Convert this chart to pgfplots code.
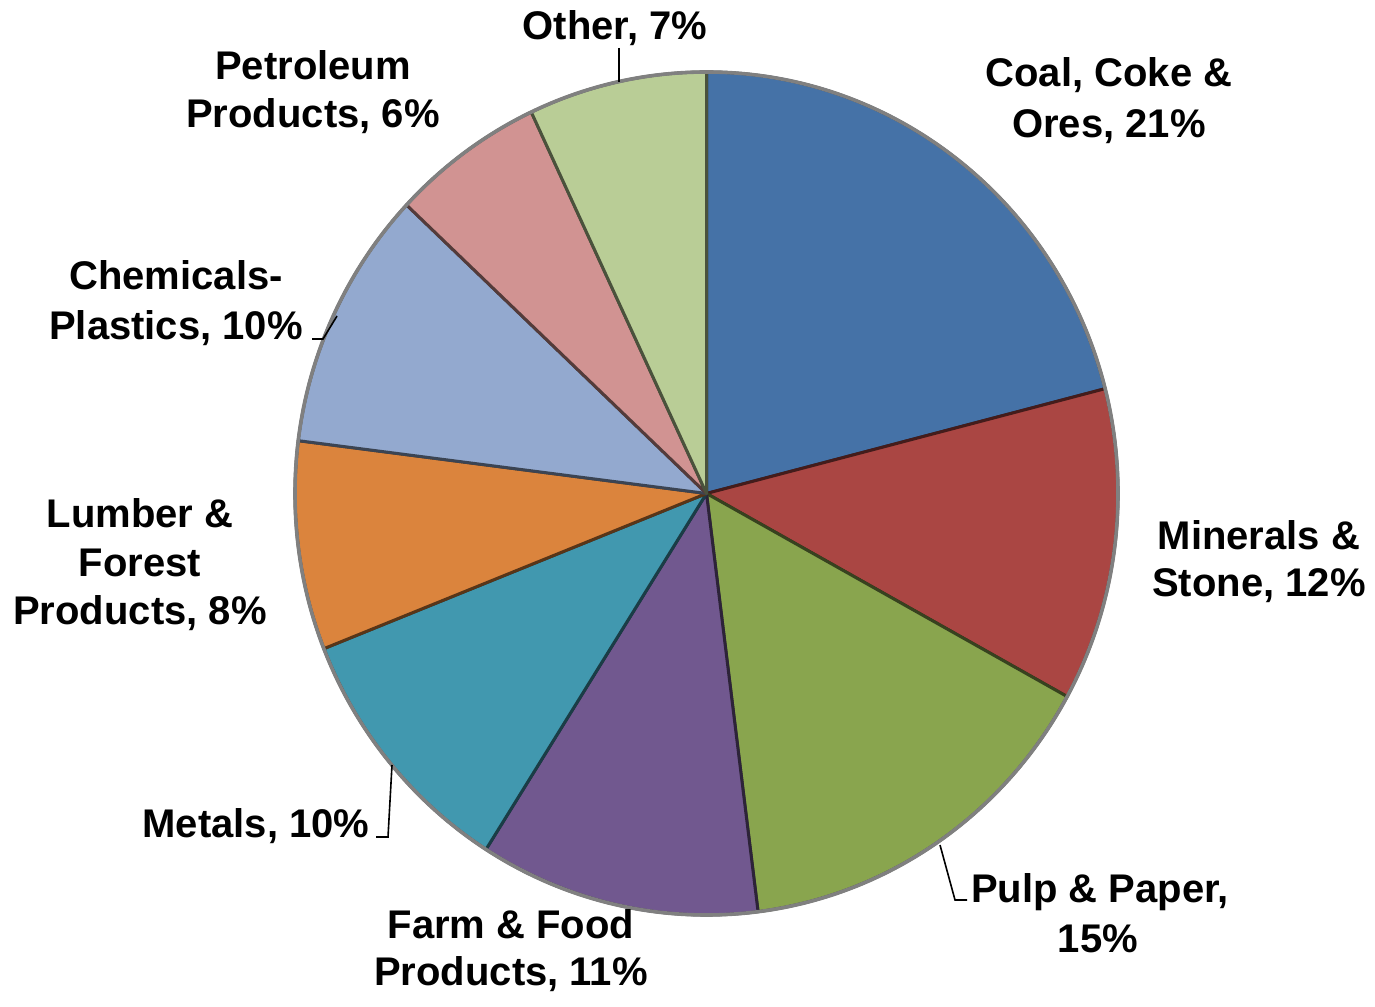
\documentclass[border=0pt]{standalone}
\usepackage{pgfplots}
\pgfplotsset{compat=1.18}
\usepackage{fontspec}
\setmainfont{Liberation Sans}
\definecolor{coal}{HTML}{4572A7}
\definecolor{minerals}{HTML}{AA4643}
\definecolor{pulp}{HTML}{89A54E}
\definecolor{farm}{HTML}{71588F}
\definecolor{metals}{HTML}{4198AF}
\definecolor{lumber}{HTML}{DB843D}
\definecolor{chem}{HTML}{93A9CF}
\definecolor{petro}{HTML}{D19392}
\definecolor{other}{HTML}{B9CD96}
% shares in percent, clockwise from 12 o'clock
\def\pieData{21/coal,12/minerals,15/pulp,11/farm,10/metals,8/lumber,10/chem,6/petro,7/other}
\def\cx{706.5}\def\cy{512.5}\def\rx{411.5}\def\ry{421.5}
\tikzset{lbl/.style={anchor=base, inner sep=0pt, font=\bfseries\fontsize{20}{24}\selectfont}}
\begin{document}
\begin{tikzpicture}
\begin{axis}[
  scale only axis, width=687.5pt, height=503pt,
  xmin=0, xmax=1375, ymin=0, ymax=1006,
  hide axis, clip=false]
\pgfplotsextra{
  \gdef\acc{90}
  \foreach \v/\c in \pieData {
    \pgfmathsetmacro\aend{\acc-3.6*\v}
    \edef\temp{\noexpand\filldraw[fill=\c, draw=\c!40!black, line width=1.5pt, line join=round]
      (axis cs:\cx,\cy) -- (axis cs:{\cx+\rx*cos(\acc)},{\cy+\ry*sin(\acc)})
      arc[start angle=\acc, end angle=\aend, x radius=\rx, y radius=\ry] -- cycle;}
    \temp
    \global\let\acc\aend
  }
  \draw[black!50, line width=1.8pt] (axis cs:\cx,\cy) ellipse[x radius=\rx, y radius=\ry];
}
% leader lines
\draw[black, line width=0.8pt] (axis cs:619,958) -- (axis cs:619,924);
\draw[black, line width=0.8pt] (axis cs:312,667) -- (axis cs:323,667) -- (axis cs:337,690);
\draw[black, line width=0.8pt] (axis cs:376,169) -- (axis cs:388,169) -- (axis cs:392,241);
\draw[black, line width=0.8pt] (axis cs:967,106) -- (axis cs:955,106) -- (axis cs:940,161);
% labels
\node[lbl] at (axis cs:615,966) {Other, 7\%};
\node[lbl] at (axis cs:1109,919) {Coal, Coke \&};
\node[lbl] at (axis cs:1109,868) {Ores, 21\%};
\node[lbl] at (axis cs:1259,456) {Minerals \&};
\node[lbl] at (axis cs:1259,409) {Stone, 12\%};
\node[lbl] at (axis cs:1100,103) {Pulp \& Paper,};
\node[lbl] at (axis cs:1098,54) {15\%};
\node[lbl] at (axis cs:511,68) {Farm \& Food};
\node[lbl] at (axis cs:511,21) {Products, 11\%};
\node[lbl] at (axis cs:256,168) {Metals, 10\%};
\node[lbl] at (axis cs:140,478) {Lumber \&};
\node[lbl] at (axis cs:140,429) {Forest};
\node[lbl] at (axis cs:140,381) {Products, 8\%};
\node[lbl] at (axis cs:176,716) {Chemicals-};
\node[lbl] at (axis cs:176,666) {Plastics, 10\%};
\node[lbl] at (axis cs:313,926) {Petroleum};
\node[lbl] at (axis cs:313,878) {Products, 6\%};
\coordinate (ll) at (axis cs:0,0);
\coordinate (ur) at (axis cs:1375,1006);
\end{axis}
\pgfresetboundingbox
\path[use as bounding box] (ll) rectangle (ur);
\end{tikzpicture}
\end{document}
